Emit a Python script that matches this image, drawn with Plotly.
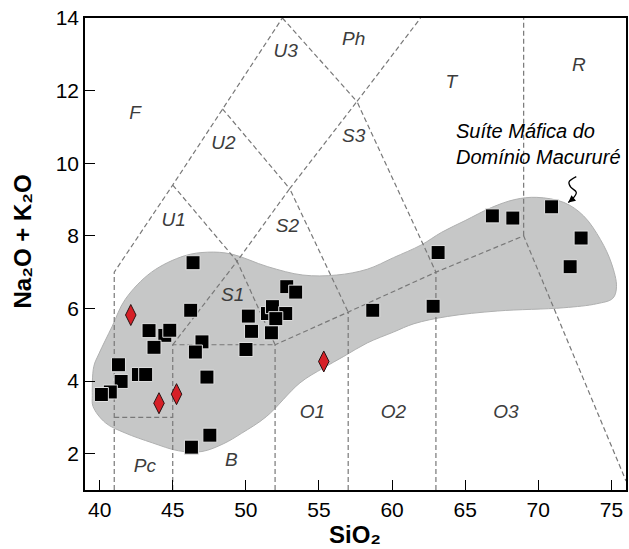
import plotly.graph_objects as go

# ---------------- data ----------------
# Samples (SiO2, Na2O+K2O) - black squares
sq_sio2 = [46.39, 46.23, 43.38, 44.46, 44.80, 43.72, 47.00, 46.55, 41.29, 41.47,
           40.73, 40.12, 42.65, 43.15, 47.34, 47.54, 46.28,
           52.80, 53.41, 50.17, 51.48, 51.82, 52.73, 52.05, 50.39, 51.75, 50.01,
           58.68, 63.15, 62.81, 66.86, 68.26, 70.91, 72.93, 72.18]
sq_alk = [7.26, 5.95, 5.39, 5.26, 5.40, 4.93, 5.08, 4.80, 4.45, 3.99,
          3.70, 3.63, 4.18, 4.18, 4.11, 2.51, 2.18,
          6.60, 6.45, 5.79, 5.86, 6.05, 5.86, 5.72, 5.37, 5.33, 4.87,
          5.95, 7.54, 6.06, 8.55, 8.49, 8.80, 7.94, 7.15]

# Red diamonds
dm_sio2 = [42.13, 45.26, 44.06, 55.33]
dm_alk = [5.82, 3.64, 3.39, 4.54]

# Field outline of "Suíte Máfica do Domínio Macururé"
field_sio2 = [39.50, 39.60, 39.95, 40.85, 41.75, 43.55, 45.80, 47.40, 49.00, 51.50,
              53.90, 56.20, 58.30, 60.10, 62.00, 63.40, 65.00, 66.80, 68.40, 69.90,
              71.75, 73.10, 74.25, 75.00, 75.35, 75.10, 74.00, 71.75, 67.20, 63.80,
              61.50, 60.10, 58.30, 56.70, 55.30, 53.70, 51.40, 49.70, 48.50, 47.00,
              45.40, 43.60, 41.75, 40.40, 39.55, 39.50]
field_alk = [3.60, 4.40, 4.75, 5.50, 6.25, 7.00, 7.45, 7.55, 7.50, 7.15,
             6.92, 6.92, 7.08, 7.40, 7.75, 8.10, 8.42, 8.78, 9.00, 9.06,
             8.92, 8.55, 7.90, 7.25, 6.60, 6.28, 6.13, 6.02, 5.93, 5.78,
             5.58, 5.35, 5.05, 4.68, 4.36, 3.95, 3.02, 2.56, 2.28, 2.06,
             2.08, 2.30, 2.57, 2.85, 3.30, 3.60]

# TAS (Le Bas et al. 1986) boundaries as polylines
tas_lines = [
    [(41, 1), (41, 7), (45, 9.4), (48.4, 11.5), (52.5, 14)],
    [(41, 3), (45, 3)],
    [(45, 1), (45, 5), (52, 5)],
    [(52, 1), (52, 5), (57, 5.9), (63, 7), (69, 8), (76, 1.25)],
    [(57, 1), (57, 5.9)],
    [(63, 1), (63, 7)],
    [(69, 8), (69, 14)],
    [(45, 5), (49.4, 7.3), (52, 5)],
    [(45, 9.4), (49.4, 7.3), (53, 9.3), (57, 5.9)],
    [(48.4, 11.5), (53, 9.3), (57.6, 11.7), (63, 7)],
    [(52.5, 14), (57.6, 11.7), (61.95, 14)],
]

# Field labels
lab_text = ["F", "U3", "Ph", "U2", "S3", "T", "R", "U1", "S2", "S1",
            "O1", "O2", "O3", "Pc", "B"]
lab_x = [42.43, 52.73, 57.37, 48.47, 57.37, 64.05, 72.77, 45.07, 52.84, 49.10,
         54.55, 60.09, 67.79, 43.10, 49.00]
lab_y = [11.36, 13.07, 13.39, 10.53, 10.72, 12.19, 12.66, 8.39, 8.25, 6.34,
         3.12, 3.12, 3.12, 1.64, 1.78]

# Curly leader arrow to the field
arrow_x = [72.60, 72.10, 72.22, 72.60, 72.35, 72.05]
arrow_y = [9.63, 9.48, 9.34, 9.20, 9.02, 8.92]

x_ticks = [40, 45, 50, 55, 60, 65, 70, 75]
y_ticks = [2, 4, 6, 8, 10, 12, 14]

FONT = "Liberation Sans, Arial, sans-serif"

# ---------------- figure ----------------
fig = go.Figure()

fig.add_trace(go.Scatter(
    x=field_sio2, y=field_alk, mode="lines", fill="toself",
    fillcolor="rgb(198,199,199)",
    line=dict(color="rgb(175,176,176)", width=1, shape="spline", smoothing=1.0),
    hoverinfo="skip", showlegend=False))

lx, ly = [], []
for seg in tas_lines:
    for (a, b) in seg:
        lx.append(a)
        ly.append(b)
    lx.append(None)
    ly.append(None)
fig.add_trace(go.Scatter(
    x=lx, y=ly, mode="lines",
    line=dict(color="rgb(120,120,120)", width=1.2, dash="5px,3px"),
    hoverinfo="skip", showlegend=False))

fig.add_trace(go.Scatter(
    x=lab_x, y=lab_y, mode="text", text=lab_text,
    textfont=dict(family=FONT, size=19, color="rgb(60,60,60)", style="italic"),
    hoverinfo="skip", showlegend=False))

fig.add_trace(go.Scatter(
    x=sq_sio2, y=sq_alk, mode="markers",
    marker=dict(symbol="square", size=14, color="black",
                line=dict(color="rgb(225,225,225)", width=1)),
    showlegend=False))

fig.add_trace(go.Scatter(
    x=dm_sio2, y=dm_alk, mode="markers",
    marker=dict(symbol="diamond-tall", size=15, color="rgb(214,32,39)",
                line=dict(color="rgb(40,20,20)", width=1)),
    showlegend=False))

fig.add_trace(go.Scatter(
    x=arrow_x, y=arrow_y, mode="lines",
    line=dict(color="black", width=1.3, shape="spline"),
    hoverinfo="skip", showlegend=False))

annotations = [
    dict(x=arrow_x[-1], y=arrow_y[-1], ax=arrow_x[-2], ay=arrow_y[-2],
         xref="x", yref="y", axref="x", ayref="y", text="",
         showarrow=True, arrowhead=2, arrowsize=1.1, arrowwidth=1.3,
         arrowcolor="black"),
    dict(x=64.23, y=10.53, xref="x", yref="y", xanchor="left", yanchor="middle",
         align="left", showarrow=False,
         text="<i>Suíte Máfica do<br>Domínio Macururé</i>",
         font=dict(family=FONT, size=20, color="black")),
    dict(x=0.4987, y=-0.0950, xref="paper", yref="paper", showarrow=False,
         xanchor="center", yanchor="middle",
         text="<b>SiO₂</b>",
         font=dict(family=FONT, size=24, color="black")),
    dict(x=-0.1151, y=0.526, xref="paper", yref="paper", showarrow=False,
         xanchor="center", yanchor="middle", textangle=-90,
         text="<b>Na₂O + K₂O</b>",
         font=dict(family=FONT, size=24, color="black")),
]

axis_common = dict(
    showgrid=False, zeroline=False, showline=True, linecolor="black",
    linewidth=1.6, mirror=True, ticks="inside", ticklen=10, tickwidth=1.4,
    tickcolor="black",
    tickfont=dict(family=FONT, size=21, color="black"),
)

fig.update_layout(
    width=629, height=549,
    margin=dict(l=85, r=1, t=18, b=59),
    paper_bgcolor="white", plot_bgcolor="white",
    xaxis=dict(range=[39, 76], tickvals=x_ticks, **axis_common),
    yaxis=dict(range=[1, 14], tickvals=y_ticks, **axis_common),
    annotations=annotations,
    showlegend=False,
)

fig.write_html(
    "out.html",
    config={"displayModeBar": False},
    post_script="document.body.style.margin='0';document.body.style.padding='0';"
                "document.body.style.overflow='hidden';",
)
